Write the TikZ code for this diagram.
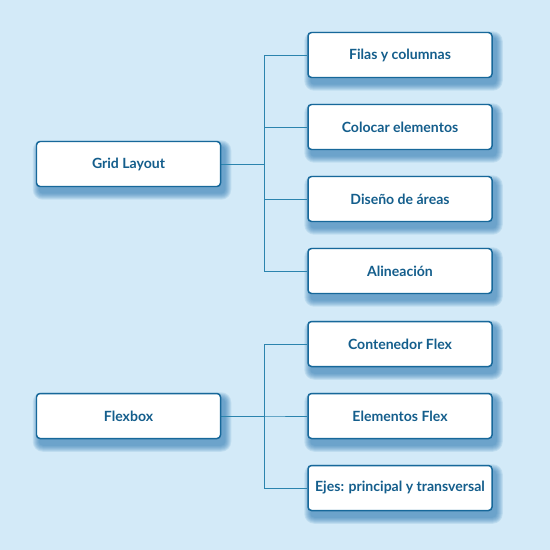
\documentclass[tikz,border=0pt]{standalone}
\usepackage{fontspec}
\setmainfont{Lato}
\usetikzlibrary{calc,backgrounds}
\definecolor{bgc}{HTML}{D3EAF8}
\definecolor{edg}{HTML}{17689A}
\definecolor{lnk}{HTML}{2B84AE}
\definecolor{txt}{HTML}{145E8C}
\definecolor{shd}{HTML}{2A78B0}
\tikzset{
  topic/.style={draw=edg, fill=white, line width=0.85pt, rounded corners=2pt,
    minimum width=3.68cm, minimum height=0.9cm, inner sep=2pt,
    font=\bfseries\fontsize{8}{9}\selectfont, text=txt},
  link/.style={lnk, line width=0.55pt},
  softshade/.style={shd, opacity=0.12},
}

\begin{document}
\begin{tikzpicture}[x=1cm,y=1cm]

% ============ Grid Layout =================================================
\node[topic] (grid) at (2.57,-3.28) {Grid Layout};
\node[topic] (filas) at (8.0,-1.10) {Filas y columnas};
\node[topic] (colocar) at (8.0,-2.54) {Colocar elementos};
\node[topic] (areas) at (8.0,-3.98) {Diseño de áreas};
\node[topic] (alin) at (8.0,-5.42) {Alineación};

% ============ Flexbox =====================================================
\node[topic] (flex) at (2.57,-8.32) {Flexbox};
\node[topic] (contenedor) at (8.0,-6.88) {Contenedor Flex};
\node[topic] (elementos) at (8.0,-8.32) {Elementos Flex};
\node[topic] (ejes) at (8.0,-9.76) {Ejes: principal y transversal};

% ============ background, shadows and links ===============================
\begin{pgfonlayer}{background}
  \fill[bgc] (0,0) rectangle (11,-11);
  % soft shadow: stacked translucent rectangles
  \foreach \n in {grid,filas,colocar,areas,alin,flex,contenedor,elementos,ejes}
    \foreach \r in {0.13,0.11,0.09,0.07,0.05,0.03,0.01}
      \fill[softshade, rounded corners=2pt+\r cm]
        ($(\n.south west)+(0.07-\r,-0.12-\r)$) rectangle ($(\n.north east)+(0.07+\r,-0.12+\r)$);
  \foreach \c in {filas,colocar,areas,alin}
    \draw[link] (grid.east) -- ($(grid.east)!0.5!(grid.east -| \c.west)$) |- (\c.west);
  \foreach \c in {contenedor,elementos,ejes}
    \draw[link] (flex.east) -- ($(flex.east)!0.5!(flex.east -| \c.west)$) |- (\c.west);
\end{pgfonlayer}
\useasboundingbox (0,0) rectangle (11,-11);

\end{tikzpicture}
\end{document}
